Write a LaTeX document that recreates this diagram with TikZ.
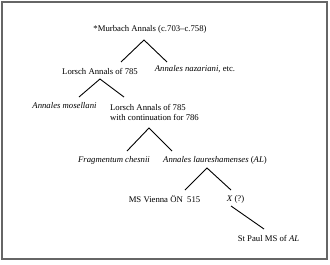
\documentclass[tikz,border=0pt]{standalone}
\usepackage{fontspec}
\setmainfont{Liberation Serif}
\begin{document}
\begin{tikzpicture}[x=1pt,y=-1pt,
  lbl/.style={inner sep=0pt,font=\fontsize{8.7}{10.5}\selectfont,anchor=center},
  edge/.style={line width=0.9pt,black}]
\useasboundingbox (0,0) rectangle (330,265);
\draw[line width=2pt,gray!80!black] (2,2) rectangle (327,259);
\node[lbl] (mur) at (150,29) {*Murbach Annals (c.703--c.758)};
\node[lbl] (lor) at (100,71) {Lorsch Annals of 785};
\node[lbl] (naz) at (195,69) {\textit{Annales nazariani}, etc.};
\node[lbl] (mos) at (64.5,106) {\textit{Annales mosellani}};
\node[lbl,align=left] (lor2) at (154.5,112.5) {Lorsch Annals of 785\\with continuation for 786};
\node[lbl] (fra) at (114,160) {\textit{Fragmentum chesnii}};
\node[lbl] (ann) at (215,160) {\textit{Annales laureshamenses} (\textit{AL})};
\node[lbl] (vie) at (164.5,199) {MS Vienna ÖN\ \ 515};
\node[lbl] (xq) at (235.5,199) {\textit{X} (?)};
\node[lbl] (stp) at (268.5,238) {St Paul MS of \textit{AL}};
% apexes and branch ends
\coordinate (a1) at (144,40);
\coordinate (a1l) at (121,62);
\coordinate (a1r) at (167,62);
\coordinate (a2) at (100,79);
\coordinate (a2l) at (79,97);
\coordinate (a2r) at (124,97);
\coordinate (a3) at (149,128);
\coordinate (a3l) at (127,151);
\coordinate (a3r) at (172,151);
\coordinate (a4) at (207,168);
\coordinate (a4l) at (185,190);
\coordinate (a4r) at (231,190);
\coordinate (a5) at (231,206);
\coordinate (a5e) at (264,229);
\draw[edge] (a1l) -- (a1) -- (a1r);
\draw[edge] (a2l) -- (a2) -- (a2r);
\draw[edge] (a3l) -- (a3) -- (a3r);
\draw[edge] (a4l) -- (a4) -- (a4r);
\draw[edge] (a5) -- (a5e);
\end{tikzpicture}
\end{document}
